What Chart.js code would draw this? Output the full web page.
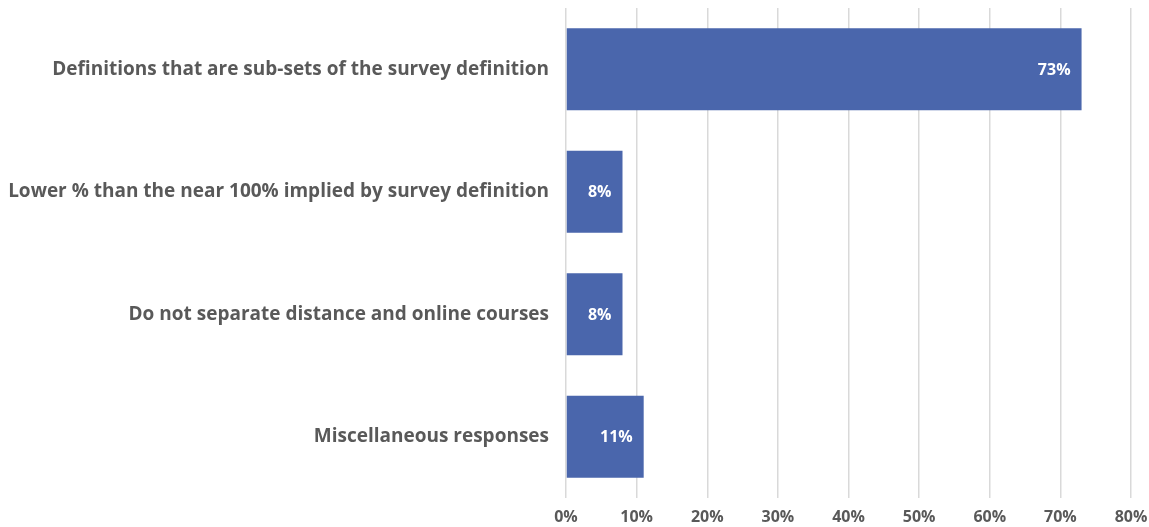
<!DOCTYPE html>
<html>
<head>
<meta charset="utf-8">
<script src="https://cdn.jsdelivr.net/npm/chart.js@4/dist/chart.umd.min.js"></script>
<style>
html,body{margin:0;padding:0;background:#fff;}
#wrap{width:1149px;height:527px;position:relative;}
</style>
</head>
<body>
<div id="wrap"><canvas id="c" width="1149" height="527"></canvas></div>
<script>
const categories = [
  "Definitions that are sub-sets of the survey definition",
  "Lower % than the near 100% implied by survey definition",
  "Do not separate distance and online courses",
  "Miscellaneous responses"
];
const values = [73, 8, 8, 11];
const xTicks = [0, 10, 20, 30, 40, 50, 60, 70, 80];

const FONT = "'Open Sans', 'DejaVu Sans', sans-serif";
const GREY = "#595959";

const labelPlugin = {
  id: 'barLabels',
  afterDatasetsDraw(chart) {
    const ctx = chart.ctx;
    const meta = chart.getDatasetMeta(0);
    ctx.save();
    ctx.font = "bold 16px " + FONT;
    ctx.fillStyle = "#ffffff";
    ctx.textAlign = "right";
    ctx.textBaseline = "middle";
    meta.data.forEach((bar, i) => {
      ctx.fillText(values[i] + "%", bar.x - 11, bar.y + 1);
    });
    ctx.restore();
  }
};

new Chart(document.getElementById('c'), {
  type: 'bar',
  data: {
    labels: categories,
    datasets: [{
      data: values,
      backgroundColor: '#4A66AC',
      borderWidth: 0,
      barPercentage: 0.67,
      categoryPercentage: 1.0
    }]
  },
  options: {
    indexAxis: 'y',
    responsive: false,
    animation: false,
    devicePixelRatio: 1,
    layout: { padding: { top: 8, right: 18, bottom: 0, left: 0 } },
    plugins: { legend: { display: false }, tooltip: { enabled: false } },
    scales: {
      x: {
        min: 0, max: 80,
        afterBuildTicks(scale) { scale.ticks = xTicks.map(v => ({ value: v })); },
        afterFit(scale) { scale.height = 29; scale.paddingLeft = 0; scale.paddingRight = 0; },
        grid: { color: '#D9D9D9', lineWidth: 1.5, drawTicks: false },
        border: { display: false },
        ticks: {
          padding: 10,
          color: GREY,
          font: { family: FONT, size: 16, weight: 'bold' },
          callback: (v) => v + '%'
        }
      },
      y: {
        afterFit(scale) { scale.width = 566; scale.paddingTop = 0; scale.paddingBottom = 0; },
        grid: { display: false, drawTicks: false },
        border: { display: false },
        ticks: {
          padding: 17,
          color: GREY,
          font: { family: FONT, size: 19, weight: 'bold' }
        }
      }
    }
  },
  plugins: [labelPlugin]
});
</script>
</body>
</html>
